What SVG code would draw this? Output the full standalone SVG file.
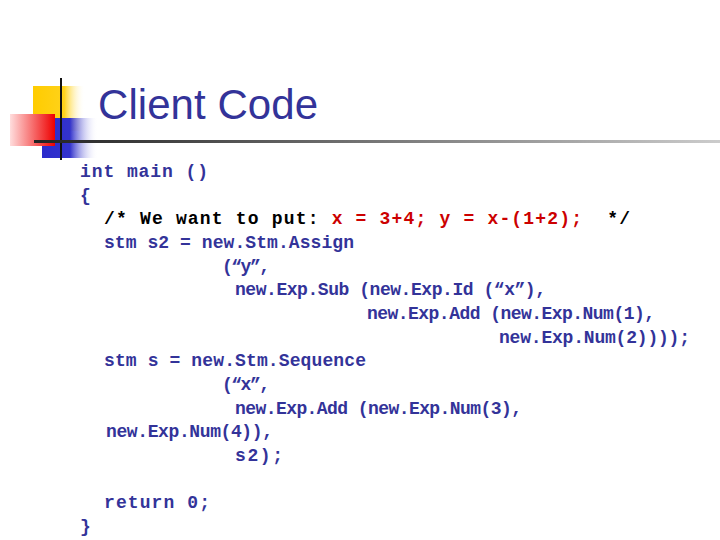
<svg xmlns="http://www.w3.org/2000/svg" width="720" height="540" viewBox="0 0 720 540">
<defs>
<linearGradient id="gy" x1="0" x2="1"><stop offset="0" stop-color="#ffcc00"/><stop offset="0.6" stop-color="#ffd21a"/><stop offset="1" stop-color="#fff" stop-opacity="0"/></linearGradient>
<linearGradient id="gb" x1="0" x2="1"><stop offset="0" stop-color="#2b2bcc"/><stop offset="0.5" stop-color="#3333cc"/><stop offset="1" stop-color="#fff" stop-opacity="0"/></linearGradient>
<linearGradient id="gr" x1="0" x2="1"><stop offset="0" stop-color="#ffdddd"/><stop offset="1" stop-color="#ee0000"/></linearGradient>
<linearGradient id="gl" x1="0" x2="1"><stop offset="0" stop-color="#222"/><stop offset="1" stop-color="#ccc"/></linearGradient>
</defs>
<style>
.c{font-family:"Liberation Mono","Courier New",monospace;font-size:18px;font-weight:bold;fill:#333399;white-space:pre}
.k{fill:#000}.r{fill:#cc0000}
</style>
<rect width="720" height="540" fill="#fff"/>
<g id="logo">
<rect x="33" y="86" width="52" height="45" fill="url(#gy)"/>
<rect x="42" y="118" width="56" height="40" fill="url(#gb)"/>
<rect x="10" y="114" width="45" height="32" fill="url(#gr)"/>
<line x1="61" y1="78" x2="61" y2="160" stroke="#111" stroke-width="2"/>
<rect x="34" y="140" width="686" height="3" fill="url(#gl)"/>
</g>
<g id="title"><text x="98" y="119" font-family="Liberation Sans,Arial,sans-serif" font-size="42" fill="#333399" textLength="220">Client Code</text></g>
<g id="code">
<text class="c" x="80" y="177" textLength="128">int main ()</text>
<text class="c" x="80" y="201">{</text>
<text class="c k" x="104" y="224" textLength="526">/* We want to put: <tspan class="r">x = 3+4; y = x-(1+2);</tspan>  */</text>
<text class="c" x="104" y="248" textLength="250">stm s2 = new.Stm.Assign</text>
<text class="c" x="222" y="272" textLength="48">(“y”,</text>
<text class="c" x="235" y="295" textLength="311">new.Exp.Sub (new.Exp.Id (“x”),</text>
<text class="c" x="367" y="319" textLength="288">new.Exp.Add (new.Exp.Num(1),</text>
<text class="c" x="499" y="343" textLength="191">new.Exp.Num(2))));</text>
<text class="c" x="104" y="366" textLength="262">stm s = new.Stm.Sequence</text>
<text class="c" x="222" y="390" textLength="48">(“x”,</text>
<text class="c" x="235" y="414" textLength="287">new.Exp.Add (new.Exp.Num(3),</text>
<text class="c" x="106" y="437" textLength="167">new.Exp.Num(4)),</text>
<text class="c" x="235" y="461" textLength="48">s2);</text>
<text class="c" x="104" y="508" textLength="106">return 0;</text>
<text class="c" x="80" y="532">}</text>
</g>
</svg>
